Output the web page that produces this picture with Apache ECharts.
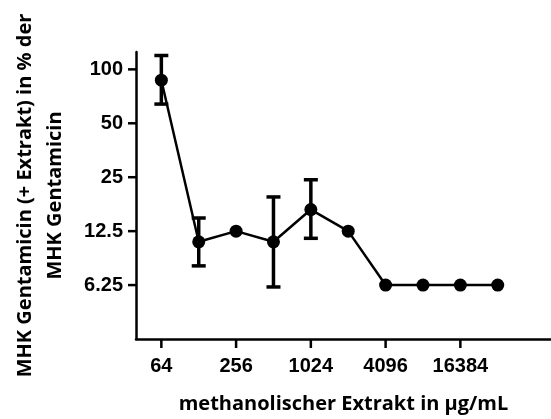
<!DOCTYPE html>
<html lang="de">
<head>
    <meta charset="UTF-8">
    <title>MHK Gentamicin</title>
    <script src="https://cdn.jsdelivr.net/npm/echarts@6/dist/echarts.min.js"></script>
    <style>
        * { margin: 0; padding: 0 }
        html, body { width: 100%; height: 100%; background: #fff; }
        #main { width: 551px; height: 419px; }
    </style>
</head>
<body>
<div id="main"></div>
<script type="text/javascript">
    // Konzentration des Extrakts (µg/mL)
    var konz = [64, 128, 256, 512, 1024, 2048, 4096, 8192, 16384, 32768];
    // MHK in % (Mittelwert)
    var mhk = [87, 10.9, 12.5, 10.9, 16.5, 12.5, 6.25, 6.25, 6.25, 6.25];
    // Fehlerbalken oben / unten (null = kein Balken)
    var errOben = [119.5, 14.8, null, 19.4, 24.2, null, null, null, null, null];
    var errUnten = [64, 8.0, null, 6.1, 11.4, null, null, null, null, null];
    // Achsenbeschriftung
    var xTicks = [64, 256, 1024, 4096, 16384];
    var yTicks = [6.25, 12.5, 25, 50, 100];

    // Achsenbereich
    var xMin = 40, xMax = 88000;
    var yMin = 3.125, yMax = 125;

    var tickFont = {
        color: '#000',
        fontFamily: '"Liberation Sans", Arial, sans-serif',
        fontWeight: 'bold',
        fontSize: 20
    };
    var titleFont = {
        color: '#000',
        fontFamily: '"Open Sans", sans-serif',
        fontWeight: 'bold',
        fontSize: 20
    };

    var linie = [];
    var balken = [];
    for (var i = 0; i < konz.length; i++) {
        linie.push([konz[i], mhk[i]]);
        if (errOben[i] != null) {
            balken.push([konz[i], errUnten[i], errOben[i]]);
        }
    }
    // Striche an den Achsen (axisTick.customValues greift bei log-Achsen nicht)
    var xStriche = xTicks.map(function (v) { return [v, 10]; });
    var yStriche = yTicks.map(function (v) { return [1000, v]; });

    var strichStil = {stroke: '#000', lineWidth: 2.5};

    var myChart = echarts.init(document.getElementById('main'));

    var option = {
        animation: false,
        grid: {left: 136, top: 52, right: 0, bottom: 70, containLabel: false},
        xAxis: {
            type: 'log',
            logBase: 2,
            min: xMin,
            max: xMax,
            name: 'methanolischer Extrakt in µg/mL',
            nameLocation: 'middle',
            nameGap: 55,
            nameTextStyle: titleFont,
            axisLine: {lineStyle: {color: '#000', width: 2.5}},
            axisTick: {show: false},
            axisLabel: Object.assign({
                margin: 17, customValues: xTicks,
                formatter: function (v) { return String(v); }
            }, tickFont),
            splitLine: {show: false},
            minorTick: {show: false}
        },
        yAxis: {
            type: 'log',
            logBase: 2,
            min: yMin,
            max: yMax,
            name: 'MHK Gentamicin (+ Extrakt) in % der\nMHK Gentamicin',
            nameLocation: 'middle',
            nameRotate: 90,
            nameGap: 66,
            nameTextStyle: Object.assign({lineHeight: 30}, titleFont),
            axisLine: {show: true, lineStyle: {color: '#000', width: 2.5}},
            axisTick: {show: false},
            axisLabel: Object.assign({
                margin: 13, customValues: yTicks,
                formatter: function (v) { return String(v); }
            }, tickFont),
            splitLine: {show: false}
        },
        series: [
            {
                name: 'MHK',
                type: 'line',
                data: linie,
                symbol: 'circle',
                symbolSize: 13,
                itemStyle: {color: '#000'},
                lineStyle: {color: '#000', width: 2.5},
                z: 3
            },
            {
                name: 'SD',
                type: 'custom',
                data: balken,
                renderItem: function (params, api) {
                    var x = api.value(0);
                    var lo = api.coord([x, api.value(1)]);
                    var hi = api.coord([x, api.value(2)]);
                    var w = 7;
                    var st = {stroke: '#000', lineWidth: 3.5};
                    return {
                        type: 'group',
                        children: [
                            {type: 'line', shape: {x1: lo[0], y1: lo[1], x2: hi[0], y2: hi[1]}, style: st},
                            {type: 'line', shape: {x1: hi[0] - w, y1: hi[1], x2: hi[0] + w, y2: hi[1]}, style: st},
                            {type: 'line', shape: {x1: lo[0] - w, y1: lo[1], x2: lo[0] + w, y2: lo[1]}, style: st}
                        ]
                    };
                },
                z: 2
            },
            {
                name: 'xStriche',
                type: 'custom',
                data: xStriche,
                silent: true,
                clip: false,
                renderItem: function (params, api) {
                    var x = api.coord([api.value(0), api.value(1)])[0];
                    var y0 = params.coordSys.y + params.coordSys.height;
                    return {type: 'line', shape: {x1: x, y1: y0, x2: x, y2: y0 + 9}, style: strichStil};
                }
            },
            {
                name: 'yStriche',
                type: 'custom',
                data: yStriche,
                silent: true,
                clip: false,
                renderItem: function (params, api) {
                    var y = api.coord([api.value(0), api.value(1)])[1];
                    var x0 = params.coordSys.x;
                    return {type: 'line', shape: {x1: x0 - 8, y1: y, x2: x0, y2: y}, style: strichStil};
                }
            }
        ]
    };

    myChart.setOption(option);
</script>
</body>
</html>
